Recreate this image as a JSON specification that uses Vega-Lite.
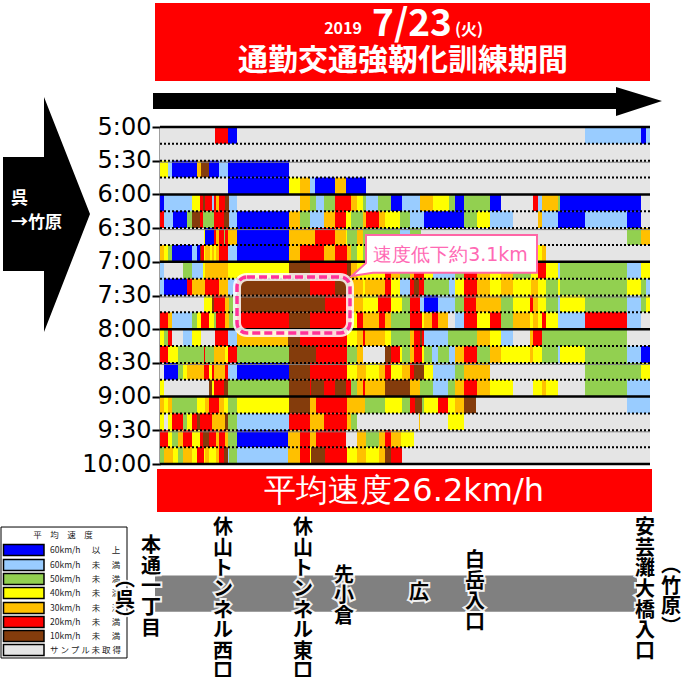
{"$schema":"https://vega.github.io/schema/vega-lite/v6.json","width":490,"height":337,"autosize":{"type":"none"},"padding":{"left":160,"top":127,"right":31,"bottom":213},"background":"white","config":{"view":{"stroke":null},"font":"Noto Sans CJK JP"},
"encoding":{"x":{"field":"a","type":"quantitative","axis":null,"scale":{"domain":[0,490],"nice":false,"zero":false}},"y":{"field":"t","type":"quantitative","scale":{"domain":[300,600],"reverse":true,"nice":false,"zero":false},"axis":{"title":null,"grid":false,"values":[300,330,360,390,420,450,480,510,540,570,600],"labelExpr":"floor(datum.value/60)+':'+(datum.value%60==0?'00':'30')","labelFont":"DejaVu Sans","labelFontSize":24,"labelColor":"black","labelPadding":1,"tickSize":8,"tickWidth":2,"tickColor":"black","domainColor":"#404040","domainWidth":2}}},
"layer":[
{"data":{"values":[{"a":-5,"b":490,"t":189.6,"u":259},{"a":-3,"b":492,"t":604.5,"u":642.7}]},"mark":{"type":"rect","color":"#FF0000"},"encoding":{"x2":{"field":"b"},"y2":{"field":"u"}}},
{"data":{"values":[{"a":-5,"b":477,"t":699.3,"u":731.5}]},"mark":{"type":"rect","color":"#808080"},"encoding":{"x2":{"field":"b"},"y2":{"field":"u"}}},
{"data":{"values":[{"a":-159,"b":-33,"t":656.1,"u":772.7}]},"mark":{"type":"rect","fill":"white","stroke":"black","strokeWidth":1},"encoding":{"x2":{"field":"b"},"y2":{"field":"u"}}},
{"data":{"values":[{"a":-156.5,"b":-116,"t":671.7,"u":681.5,"s":"60+"},{"a":-156.5,"b":-116,"t":685,"u":694.8,"s":"60"},{"a":-156.5,"b":-116,"t":697.5,"u":707.3,"s":"50"},{"a":-156.5,"b":-116,"t":709.9,"u":719.7,"s":"40"},{"a":-156.5,"b":-116,"t":723.3,"u":733.1,"s":"30"},{"a":-156.5,"b":-116,"t":735.8,"u":745.6,"s":"20"},{"a":-156.5,"b":-116,"t":748.2,"u":758,"s":"10"},{"a":-156.5,"b":-116,"t":760.7,"u":770.5,"s":"NA"}]},"mark":{"type":"rect","stroke":"black","strokeWidth":1.5},"encoding":{"x2":{"field":"b"},"y2":{"field":"u"},"color":{"field":"s","type":"nominal","legend":null,"scale":{"domain":["60+","60","50","40","30","20","10","NA"],"range":["#0000FF","#99CCFF","#92D050","#FFFF00","#FFC000","#FF0000","#843C0C","#E5E5E5"]}}}},
{"data":{"values":[{"a":-110,"t":676.6,"label":"60km/h"},{"a":-110,"t":689.9,"label":"60km/h"},{"a":-110,"t":702.4,"label":"50km/h"},{"a":-110,"t":714.8,"label":"40km/h"},{"a":-110,"t":728.2,"label":"30km/h"},{"a":-110,"t":740.7,"label":"20km/h"},{"a":-110,"t":753.1,"label":"10km/h"},{"a":-110,"t":765.6,"label":"サ ン プ ル 未 取 得"}]},"mark":{"type":"text","font":"Noto Sans CJK JP","fontSize":8.5,"color":"#222222","align":"left","baseline":"middle"},"encoding":{"text":{"field":"label"}}},
{"data":{"values":[{"a":-97,"t":663.2,"label":"平　均　速　度"},{"a":-64,"t":676.6,"label":"以"},{"a":-44,"t":676.6,"label":"上"},{"a":-64,"t":689.9,"label":"未"},{"a":-44,"t":689.9,"label":"満"},{"a":-64,"t":702.4,"label":"未"},{"a":-44,"t":702.4,"label":"満"},{"a":-64,"t":714.8,"label":"未"},{"a":-44,"t":714.8,"label":"満"},{"a":-64,"t":728.2,"label":"未"},{"a":-44,"t":728.2,"label":"満"},{"a":-64,"t":740.7,"label":"未"},{"a":-44,"t":740.7,"label":"満"},{"a":-64,"t":753.1,"label":"未"},{"a":-44,"t":753.1,"label":"満"}]},"mark":{"type":"text","font":"Noto Sans CJK JP","fontSize":8.5,"color":"#222222","align":"center","baseline":"middle"},"encoding":{"text":{"field":"label"}}},
{"data":{"values":[
{"t":300,"u":315,"a":0,"b":55,"s":"NA"},{"t":300,"u":315,"a":55,"b":68,"s":"20"},{"t":300,"u":315,"a":68,"b":77,"s":"60+"},{"t":300,"u":315,"a":77,"b":425,"s":"NA"},{"t":300,"u":315,"a":425,"b":481,"s":"60"},{"t":300,"u":315,"a":481,"b":486,"s":"60+"},{"t":300,"u":315,"a":486,"b":490,"s":"60"},
{"t":315,"u":330,"a":0,"b":490,"s":"NA"},
{"t":330,"u":345,"a":0,"b":8,"s":"40"},{"t":330,"u":345,"a":8,"b":12,"s":"60"},{"t":330,"u":345,"a":12,"b":37,"s":"60+"},{"t":330,"u":345,"a":37,"b":41,"s":"30"},{"t":330,"u":345,"a":41,"b":49,"s":"10"},{"t":330,"u":345,"a":49,"b":59,"s":"60+"},{"t":330,"u":345,"a":59,"b":68,"s":"60"},{"t":330,"u":345,"a":68,"b":129,"s":"60+"},{"t":330,"u":345,"a":129,"b":490,"s":"NA"},
{"t":345,"u":360,"a":0,"b":68,"s":"NA"},{"t":345,"u":360,"a":68,"b":129,"s":"60+"},{"t":345,"u":360,"a":129,"b":140,"s":"40"},{"t":345,"u":360,"a":140,"b":150,"s":"30"},{"t":345,"u":360,"a":150,"b":155,"s":"60"},{"t":345,"u":360,"a":155,"b":175,"s":"60+"},{"t":345,"u":360,"a":175,"b":186,"s":"30"},{"t":345,"u":360,"a":186,"b":206,"s":"60+"},{"t":345,"u":360,"a":206,"b":490,"s":"NA"},
{"t":360,"u":375,"a":0,"b":4,"s":"60+"},{"t":360,"u":375,"a":4,"b":32,"s":"60"},{"t":360,"u":375,"a":32,"b":40,"s":"40"},{"t":360,"u":375,"a":40,"b":43,"s":"20"},{"t":360,"u":375,"a":43,"b":45,"s":"10"},{"t":360,"u":375,"a":45,"b":52,"s":"20"},{"t":360,"u":375,"a":52,"b":54,"s":"60"},{"t":360,"u":375,"a":54,"b":56,"s":"20"},{"t":360,"u":375,"a":56,"b":59,"s":"30"},{"t":360,"u":375,"a":59,"b":65,"s":"20"},{"t":360,"u":375,"a":65,"b":69,"s":"10"},{"t":360,"u":375,"a":69,"b":77,"s":"60"},{"t":360,"u":375,"a":77,"b":140,"s":"NA"},{"t":360,"u":375,"a":140,"b":150,"s":"30"},{"t":360,"u":375,"a":150,"b":156,"s":"50"},{"t":360,"u":375,"a":156,"b":164,"s":"60"},{"t":360,"u":375,"a":164,"b":175,"s":"50"},{"t":360,"u":375,"a":175,"b":191,"s":"20"},{"t":360,"u":375,"a":191,"b":197,"s":"30"},{"t":360,"u":375,"a":197,"b":203,"s":"40"},{"t":360,"u":375,"a":203,"b":206,"s":"50"},{"t":360,"u":375,"a":206,"b":218,"s":"60"},{"t":360,"u":375,"a":218,"b":231,"s":"50"},{"t":360,"u":375,"a":231,"b":242,"s":"60+"},{"t":360,"u":375,"a":242,"b":260,"s":"60"},{"t":360,"u":375,"a":260,"b":273,"s":"30"},{"t":360,"u":375,"a":273,"b":289,"s":"40"},{"t":360,"u":375,"a":289,"b":295,"s":"50"},{"t":360,"u":375,"a":295,"b":304,"s":"60+"},{"t":360,"u":375,"a":304,"b":330,"s":"50"},{"t":360,"u":375,"a":330,"b":341,"s":"60+"},{"t":360,"u":375,"a":341,"b":373,"s":"NA"},{"t":360,"u":375,"a":373,"b":378,"s":"20"},{"t":360,"u":375,"a":378,"b":382,"s":"60"},{"t":360,"u":375,"a":382,"b":398,"s":"30"},{"t":360,"u":375,"a":398,"b":400,"s":"50"},{"t":360,"u":375,"a":400,"b":481,"s":"60+"},{"t":360,"u":375,"a":481,"b":490,"s":"NA"},
{"t":375,"u":390,"a":0,"b":4,"s":"20"},{"t":375,"u":390,"a":4,"b":13,"s":"60"},{"t":375,"u":390,"a":13,"b":27,"s":"60+"},{"t":375,"u":390,"a":27,"b":32,"s":"50"},{"t":375,"u":390,"a":32,"b":40,"s":"10"},{"t":375,"u":390,"a":40,"b":43,"s":"20"},{"t":375,"u":390,"a":43,"b":54,"s":"50"},{"t":375,"u":390,"a":54,"b":64,"s":"20"},{"t":375,"u":390,"a":64,"b":69,"s":"10"},{"t":375,"u":390,"a":69,"b":77,"s":"60"},{"t":375,"u":390,"a":77,"b":129,"s":"60+"},{"t":375,"u":390,"a":129,"b":140,"s":"30"},{"t":375,"u":390,"a":140,"b":150,"s":"50"},{"t":375,"u":390,"a":150,"b":164,"s":"60"},{"t":375,"u":390,"a":164,"b":175,"s":"30"},{"t":375,"u":390,"a":175,"b":186,"s":"20"},{"t":375,"u":390,"a":186,"b":191,"s":"40"},{"t":375,"u":390,"a":191,"b":203,"s":"50"},{"t":375,"u":390,"a":203,"b":206,"s":"30"},{"t":375,"u":390,"a":206,"b":219,"s":"20"},{"t":375,"u":390,"a":219,"b":225,"s":"30"},{"t":375,"u":390,"a":225,"b":240,"s":"40"},{"t":375,"u":390,"a":240,"b":250,"s":"50"},{"t":375,"u":390,"a":250,"b":264,"s":"60"},{"t":375,"u":390,"a":264,"b":304,"s":"60+"},{"t":375,"u":390,"a":304,"b":317,"s":"50"},{"t":375,"u":390,"a":317,"b":330,"s":"40"},{"t":375,"u":390,"a":330,"b":353,"s":"60"},{"t":375,"u":390,"a":353,"b":378,"s":"NA"},{"t":375,"u":390,"a":378,"b":382,"s":"30"},{"t":375,"u":390,"a":382,"b":398,"s":"60"},{"t":375,"u":390,"a":398,"b":425,"s":"60+"},{"t":375,"u":390,"a":425,"b":467,"s":"60"},{"t":375,"u":390,"a":467,"b":481,"s":"60+"},{"t":375,"u":390,"a":481,"b":490,"s":"NA"},
{"t":390,"u":405,"a":0,"b":44,"s":"NA"},{"t":390,"u":405,"a":44,"b":45,"s":"40"},{"t":390,"u":405,"a":45,"b":54,"s":"60+"},{"t":390,"u":405,"a":54,"b":56,"s":"20"},{"t":390,"u":405,"a":56,"b":59,"s":"30"},{"t":390,"u":405,"a":59,"b":64,"s":"20"},{"t":390,"u":405,"a":64,"b":65,"s":"50"},{"t":390,"u":405,"a":65,"b":68,"s":"20"},{"t":390,"u":405,"a":68,"b":77,"s":"30"},{"t":390,"u":405,"a":77,"b":129,"s":"60+"},{"t":390,"u":405,"a":129,"b":155,"s":"30"},{"t":390,"u":405,"a":155,"b":175,"s":"20"},{"t":390,"u":405,"a":175,"b":186,"s":"30"},{"t":390,"u":405,"a":186,"b":187,"s":"40"},{"t":390,"u":405,"a":187,"b":197,"s":"50"},{"t":390,"u":405,"a":197,"b":203,"s":"30"},{"t":390,"u":405,"a":203,"b":240,"s":"50"},{"t":390,"u":405,"a":240,"b":250,"s":"60"},{"t":390,"u":405,"a":250,"b":261,"s":"50"},{"t":390,"u":405,"a":261,"b":467,"s":"NA"},{"t":390,"u":405,"a":467,"b":481,"s":"50"},{"t":390,"u":405,"a":481,"b":490,"s":"30"},
{"t":405,"u":420,"a":0,"b":4,"s":"30"},{"t":405,"u":420,"a":4,"b":8,"s":"40"},{"t":405,"u":420,"a":8,"b":12,"s":"50"},{"t":405,"u":420,"a":12,"b":32,"s":"60+"},{"t":405,"u":420,"a":32,"b":37,"s":"60"},{"t":405,"u":420,"a":37,"b":40,"s":"60+"},{"t":405,"u":420,"a":40,"b":41,"s":"10"},{"t":405,"u":420,"a":41,"b":44,"s":"20"},{"t":405,"u":420,"a":44,"b":45,"s":"40"},{"t":405,"u":420,"a":45,"b":50,"s":"30"},{"t":405,"u":420,"a":50,"b":52,"s":"40"},{"t":405,"u":420,"a":52,"b":54,"s":"30"},{"t":405,"u":420,"a":54,"b":56,"s":"40"},{"t":405,"u":420,"a":56,"b":59,"s":"30"},{"t":405,"u":420,"a":59,"b":68,"s":"20"},{"t":405,"u":420,"a":68,"b":77,"s":"60"},{"t":405,"u":420,"a":77,"b":129,"s":"60+"},{"t":405,"u":420,"a":129,"b":140,"s":"30"},{"t":405,"u":420,"a":140,"b":164,"s":"20"},{"t":405,"u":420,"a":164,"b":175,"s":"30"},{"t":405,"u":420,"a":175,"b":187,"s":"20"},{"t":405,"u":420,"a":187,"b":191,"s":"30"},{"t":405,"u":420,"a":191,"b":197,"s":"50"},{"t":405,"u":420,"a":197,"b":203,"s":"40"},{"t":405,"u":420,"a":203,"b":378,"s":"50"},{"t":405,"u":420,"a":378,"b":382,"s":"40"},{"t":405,"u":420,"a":382,"b":386,"s":"30"},{"t":405,"u":420,"a":386,"b":490,"s":"NA"},
{"t":420,"u":435,"a":0,"b":4,"s":"60"},{"t":420,"u":435,"a":4,"b":23,"s":"NA"},{"t":420,"u":435,"a":23,"b":32,"s":"50"},{"t":420,"u":435,"a":32,"b":43,"s":"60"},{"t":420,"u":435,"a":43,"b":45,"s":"40"},{"t":420,"u":435,"a":45,"b":68,"s":"30"},{"t":420,"u":435,"a":68,"b":129,"s":"40"},{"t":420,"u":435,"a":129,"b":150,"s":"10"},{"t":420,"u":435,"a":150,"b":187,"s":"20"},{"t":420,"u":435,"a":187,"b":191,"s":"10"},{"t":420,"u":435,"a":191,"b":197,"s":"30"},{"t":420,"u":435,"a":197,"b":225,"s":"40"},{"t":420,"u":435,"a":225,"b":231,"s":"20"},{"t":420,"u":435,"a":231,"b":240,"s":"30"},{"t":420,"u":435,"a":240,"b":250,"s":"50"},{"t":420,"u":435,"a":250,"b":254,"s":"30"},{"t":420,"u":435,"a":254,"b":264,"s":"20"},{"t":420,"u":435,"a":264,"b":273,"s":"40"},{"t":420,"u":435,"a":273,"b":295,"s":"60"},{"t":420,"u":435,"a":295,"b":304,"s":"50"},{"t":420,"u":435,"a":304,"b":317,"s":"20"},{"t":420,"u":435,"a":317,"b":330,"s":"30"},{"t":420,"u":435,"a":330,"b":341,"s":"40"},{"t":420,"u":435,"a":341,"b":353,"s":"30"},{"t":420,"u":435,"a":353,"b":371,"s":"50"},{"t":420,"u":435,"a":371,"b":378,"s":"40"},{"t":420,"u":435,"a":378,"b":386,"s":"20"},{"t":420,"u":435,"a":386,"b":398,"s":"40"},{"t":420,"u":435,"a":398,"b":400,"s":"60"},{"t":420,"u":435,"a":400,"b":467,"s":"50"},{"t":420,"u":435,"a":467,"b":481,"s":"60"},{"t":420,"u":435,"a":481,"b":490,"s":"40"},
{"t":435,"u":450,"a":0,"b":4,"s":"60"},{"t":435,"u":450,"a":4,"b":27,"s":"60+"},{"t":435,"u":450,"a":27,"b":32,"s":"20"},{"t":435,"u":450,"a":32,"b":45,"s":"30"},{"t":435,"u":450,"a":45,"b":59,"s":"20"},{"t":435,"u":450,"a":59,"b":68,"s":"30"},{"t":435,"u":450,"a":68,"b":77,"s":"60"},{"t":435,"u":450,"a":77,"b":150,"s":"10"},{"t":435,"u":450,"a":150,"b":175,"s":"20"},{"t":435,"u":450,"a":175,"b":190,"s":"10"},{"t":435,"u":450,"a":190,"b":203,"s":"30"},{"t":435,"u":450,"a":203,"b":205,"s":"40"},{"t":435,"u":450,"a":205,"b":225,"s":"30"},{"t":435,"u":450,"a":225,"b":231,"s":"20"},{"t":435,"u":450,"a":231,"b":240,"s":"40"},{"t":435,"u":450,"a":240,"b":250,"s":"60"},{"t":435,"u":450,"a":250,"b":254,"s":"20"},{"t":435,"u":450,"a":254,"b":259,"s":"10"},{"t":435,"u":450,"a":259,"b":264,"s":"20"},{"t":435,"u":450,"a":264,"b":289,"s":"50"},{"t":435,"u":450,"a":289,"b":295,"s":"60"},{"t":435,"u":450,"a":295,"b":304,"s":"40"},{"t":435,"u":450,"a":304,"b":317,"s":"20"},{"t":435,"u":450,"a":317,"b":330,"s":"30"},{"t":435,"u":450,"a":330,"b":341,"s":"40"},{"t":435,"u":450,"a":341,"b":353,"s":"30"},{"t":435,"u":450,"a":353,"b":371,"s":"40"},{"t":435,"u":450,"a":371,"b":378,"s":"30"},{"t":435,"u":450,"a":378,"b":386,"s":"40"},{"t":435,"u":450,"a":386,"b":398,"s":"50"},{"t":435,"u":450,"a":398,"b":400,"s":"40"},{"t":435,"u":450,"a":400,"b":467,"s":"50"},{"t":435,"u":450,"a":467,"b":481,"s":"40"},{"t":435,"u":450,"a":481,"b":486,"s":"50"},{"t":435,"u":450,"a":486,"b":490,"s":"60"},
{"t":450,"u":465,"a":0,"b":44,"s":"NA"},{"t":450,"u":465,"a":44,"b":52,"s":"40"},{"t":450,"u":465,"a":52,"b":54,"s":"10"},{"t":450,"u":465,"a":54,"b":65,"s":"20"},{"t":450,"u":465,"a":65,"b":69,"s":"30"},{"t":450,"u":465,"a":69,"b":77,"s":"50"},{"t":450,"u":465,"a":77,"b":165,"s":"10"},{"t":450,"u":465,"a":165,"b":191,"s":"20"},{"t":450,"u":465,"a":191,"b":203,"s":"30"},{"t":450,"u":465,"a":203,"b":218,"s":"40"},{"t":450,"u":465,"a":218,"b":231,"s":"20"},{"t":450,"u":465,"a":231,"b":242,"s":"40"},{"t":450,"u":465,"a":242,"b":250,"s":"50"},{"t":450,"u":465,"a":250,"b":260,"s":"20"},{"t":450,"u":465,"a":260,"b":264,"s":"60"},{"t":450,"u":465,"a":264,"b":278,"s":"60+"},{"t":450,"u":465,"a":278,"b":295,"s":"60"},{"t":450,"u":465,"a":295,"b":304,"s":"50"},{"t":450,"u":465,"a":304,"b":316,"s":"20"},{"t":450,"u":465,"a":316,"b":341,"s":"30"},{"t":450,"u":465,"a":341,"b":353,"s":"50"},{"t":450,"u":465,"a":353,"b":370,"s":"40"},{"t":450,"u":465,"a":370,"b":373,"s":"20"},{"t":450,"u":465,"a":373,"b":378,"s":"30"},{"t":450,"u":465,"a":378,"b":386,"s":"40"},{"t":450,"u":465,"a":386,"b":398,"s":"50"},{"t":450,"u":465,"a":398,"b":400,"s":"60"},{"t":450,"u":465,"a":400,"b":425,"s":"40"},{"t":450,"u":465,"a":425,"b":467,"s":"50"},{"t":450,"u":465,"a":467,"b":481,"s":"60"},{"t":450,"u":465,"a":481,"b":486,"s":"50"},{"t":450,"u":465,"a":486,"b":490,"s":"40"},
{"t":465,"u":480,"a":0,"b":8,"s":"20"},{"t":465,"u":480,"a":8,"b":12,"s":"30"},{"t":465,"u":480,"a":12,"b":32,"s":"60"},{"t":465,"u":480,"a":32,"b":37,"s":"50"},{"t":465,"u":480,"a":37,"b":41,"s":"40"},{"t":465,"u":480,"a":41,"b":49,"s":"20"},{"t":465,"u":480,"a":49,"b":54,"s":"40"},{"t":465,"u":480,"a":54,"b":56,"s":"50"},{"t":465,"u":480,"a":56,"b":65,"s":"20"},{"t":465,"u":480,"a":65,"b":69,"s":"30"},{"t":465,"u":480,"a":69,"b":77,"s":"50"},{"t":465,"u":480,"a":77,"b":129,"s":"20"},{"t":465,"u":480,"a":129,"b":150,"s":"10"},{"t":465,"u":480,"a":150,"b":191,"s":"20"},{"t":465,"u":480,"a":191,"b":197,"s":"40"},{"t":465,"u":480,"a":197,"b":203,"s":"20"},{"t":465,"u":480,"a":203,"b":219,"s":"30"},{"t":465,"u":480,"a":219,"b":225,"s":"20"},{"t":465,"u":480,"a":225,"b":231,"s":"30"},{"t":465,"u":480,"a":231,"b":250,"s":"50"},{"t":465,"u":480,"a":250,"b":262,"s":"20"},{"t":465,"u":480,"a":262,"b":264,"s":"40"},{"t":465,"u":480,"a":264,"b":272,"s":"30"},{"t":465,"u":480,"a":272,"b":278,"s":"20"},{"t":465,"u":480,"a":278,"b":288,"s":"30"},{"t":465,"u":480,"a":288,"b":295,"s":"NA"},{"t":465,"u":480,"a":295,"b":304,"s":"60"},{"t":465,"u":480,"a":304,"b":317,"s":"20"},{"t":465,"u":480,"a":317,"b":330,"s":"40"},{"t":465,"u":480,"a":330,"b":341,"s":"20"},{"t":465,"u":480,"a":341,"b":353,"s":"50"},{"t":465,"u":480,"a":353,"b":370,"s":"30"},{"t":465,"u":480,"a":370,"b":373,"s":"40"},{"t":465,"u":480,"a":373,"b":378,"s":"30"},{"t":465,"u":480,"a":378,"b":382,"s":"40"},{"t":465,"u":480,"a":382,"b":386,"s":"20"},{"t":465,"u":480,"a":386,"b":398,"s":"40"},{"t":465,"u":480,"a":398,"b":425,"s":"60"},{"t":465,"u":480,"a":425,"b":467,"s":"20"},{"t":465,"u":480,"a":467,"b":481,"s":"60"},{"t":465,"u":480,"a":481,"b":490,"s":"NA"},
{"t":480,"u":495,"a":0,"b":4,"s":"40"},{"t":480,"u":495,"a":4,"b":8,"s":"50"},{"t":480,"u":495,"a":8,"b":12,"s":"20"},{"t":480,"u":495,"a":12,"b":23,"s":"NA"},{"t":480,"u":495,"a":23,"b":32,"s":"60"},{"t":480,"u":495,"a":32,"b":41,"s":"40"},{"t":480,"u":495,"a":41,"b":55,"s":"NA"},{"t":480,"u":495,"a":55,"b":68,"s":"20"},{"t":480,"u":495,"a":68,"b":77,"s":"60"},{"t":480,"u":495,"a":77,"b":128,"s":"30"},{"t":480,"u":495,"a":128,"b":140,"s":"10"},{"t":480,"u":495,"a":140,"b":187,"s":"20"},{"t":480,"u":495,"a":187,"b":197,"s":"40"},{"t":480,"u":495,"a":197,"b":203,"s":"30"},{"t":480,"u":495,"a":203,"b":205,"s":"20"},{"t":480,"u":495,"a":205,"b":225,"s":"30"},{"t":480,"u":495,"a":225,"b":231,"s":"40"},{"t":480,"u":495,"a":231,"b":250,"s":"50"},{"t":480,"u":495,"a":250,"b":254,"s":"30"},{"t":480,"u":495,"a":254,"b":260,"s":"20"},{"t":480,"u":495,"a":260,"b":262,"s":"10"},{"t":480,"u":495,"a":262,"b":264,"s":"20"},{"t":480,"u":495,"a":264,"b":288,"s":"60"},{"t":480,"u":495,"a":288,"b":317,"s":"50"},{"t":480,"u":495,"a":317,"b":330,"s":"30"},{"t":480,"u":495,"a":330,"b":341,"s":"40"},{"t":480,"u":495,"a":341,"b":353,"s":"60"},{"t":480,"u":495,"a":353,"b":370,"s":"NA"},{"t":480,"u":495,"a":370,"b":373,"s":"30"},{"t":480,"u":495,"a":373,"b":382,"s":"20"},{"t":480,"u":495,"a":382,"b":467,"s":"50"},{"t":480,"u":495,"a":467,"b":490,"s":"NA"},
{"t":495,"u":510,"a":0,"b":8,"s":"20"},{"t":495,"u":510,"a":8,"b":18,"s":"40"},{"t":495,"u":510,"a":18,"b":44,"s":"50"},{"t":495,"u":510,"a":44,"b":45,"s":"20"},{"t":495,"u":510,"a":45,"b":54,"s":"50"},{"t":495,"u":510,"a":54,"b":65,"s":"30"},{"t":495,"u":510,"a":65,"b":68,"s":"40"},{"t":495,"u":510,"a":68,"b":77,"s":"20"},{"t":495,"u":510,"a":77,"b":129,"s":"50"},{"t":495,"u":510,"a":129,"b":156,"s":"10"},{"t":495,"u":510,"a":156,"b":187,"s":"20"},{"t":495,"u":510,"a":187,"b":197,"s":"50"},{"t":495,"u":510,"a":197,"b":203,"s":"30"},{"t":495,"u":510,"a":203,"b":225,"s":"NA"},{"t":495,"u":510,"a":225,"b":231,"s":"10"},{"t":495,"u":510,"a":231,"b":240,"s":"20"},{"t":495,"u":510,"a":240,"b":242,"s":"40"},{"t":495,"u":510,"a":242,"b":250,"s":"50"},{"t":495,"u":510,"a":250,"b":254,"s":"30"},{"t":495,"u":510,"a":254,"b":262,"s":"20"},{"t":495,"u":510,"a":262,"b":264,"s":"40"},{"t":495,"u":510,"a":264,"b":272,"s":"50"},{"t":495,"u":510,"a":272,"b":278,"s":"60"},{"t":495,"u":510,"a":278,"b":289,"s":"50"},{"t":495,"u":510,"a":289,"b":295,"s":"60"},{"t":495,"u":510,"a":295,"b":304,"s":"30"},{"t":495,"u":510,"a":304,"b":317,"s":"20"},{"t":495,"u":510,"a":317,"b":330,"s":"50"},{"t":495,"u":510,"a":330,"b":341,"s":"30"},{"t":495,"u":510,"a":341,"b":370,"s":"40"},{"t":495,"u":510,"a":370,"b":373,"s":"30"},{"t":495,"u":510,"a":373,"b":382,"s":"40"},{"t":495,"u":510,"a":382,"b":398,"s":"50"},{"t":495,"u":510,"a":398,"b":400,"s":"60"},{"t":495,"u":510,"a":400,"b":425,"s":"40"},{"t":495,"u":510,"a":425,"b":467,"s":"50"},{"t":495,"u":510,"a":467,"b":481,"s":"60"},{"t":495,"u":510,"a":481,"b":490,"s":"60+"},
{"t":510,"u":525,"a":0,"b":4,"s":"NA"},{"t":510,"u":525,"a":4,"b":18,"s":"60+"},{"t":510,"u":525,"a":18,"b":23,"s":"50"},{"t":510,"u":525,"a":23,"b":27,"s":"40"},{"t":510,"u":525,"a":27,"b":44,"s":"30"},{"t":510,"u":525,"a":44,"b":49,"s":"20"},{"t":510,"u":525,"a":49,"b":52,"s":"40"},{"t":510,"u":525,"a":52,"b":54,"s":"20"},{"t":510,"u":525,"a":54,"b":65,"s":"30"},{"t":510,"u":525,"a":65,"b":68,"s":"20"},{"t":510,"u":525,"a":68,"b":77,"s":"60"},{"t":510,"u":525,"a":77,"b":129,"s":"60+"},{"t":510,"u":525,"a":129,"b":150,"s":"10"},{"t":510,"u":525,"a":150,"b":187,"s":"20"},{"t":510,"u":525,"a":187,"b":197,"s":"40"},{"t":510,"u":525,"a":197,"b":206,"s":"30"},{"t":510,"u":525,"a":206,"b":219,"s":"40"},{"t":510,"u":525,"a":219,"b":225,"s":"30"},{"t":510,"u":525,"a":225,"b":231,"s":"20"},{"t":510,"u":525,"a":231,"b":242,"s":"40"},{"t":510,"u":525,"a":242,"b":250,"s":"30"},{"t":510,"u":525,"a":250,"b":254,"s":"20"},{"t":510,"u":525,"a":254,"b":264,"s":"10"},{"t":510,"u":525,"a":264,"b":273,"s":"40"},{"t":510,"u":525,"a":273,"b":295,"s":"60"},{"t":510,"u":525,"a":295,"b":304,"s":"50"},{"t":510,"u":525,"a":304,"b":330,"s":"30"},{"t":510,"u":525,"a":330,"b":425,"s":"NA"},{"t":510,"u":525,"a":425,"b":481,"s":"50"},{"t":510,"u":525,"a":481,"b":490,"s":"40"},
{"t":525,"u":540,"a":0,"b":4,"s":"40"},{"t":525,"u":540,"a":4,"b":49,"s":"NA"},{"t":525,"u":540,"a":49,"b":52,"s":"10"},{"t":525,"u":540,"a":52,"b":54,"s":"40"},{"t":525,"u":540,"a":54,"b":64,"s":"20"},{"t":525,"u":540,"a":64,"b":68,"s":"10"},{"t":525,"u":540,"a":68,"b":129,"s":"50"},{"t":525,"u":540,"a":129,"b":150,"s":"10"},{"t":525,"u":540,"a":150,"b":151,"s":"20"},{"t":525,"u":540,"a":151,"b":164,"s":"10"},{"t":525,"u":540,"a":164,"b":175,"s":"20"},{"t":525,"u":540,"a":175,"b":186,"s":"10"},{"t":525,"u":540,"a":186,"b":191,"s":"20"},{"t":525,"u":540,"a":191,"b":197,"s":"50"},{"t":525,"u":540,"a":197,"b":203,"s":"30"},{"t":525,"u":540,"a":203,"b":205,"s":"20"},{"t":525,"u":540,"a":205,"b":225,"s":"30"},{"t":525,"u":540,"a":225,"b":250,"s":"10"},{"t":525,"u":540,"a":250,"b":260,"s":"30"},{"t":525,"u":540,"a":260,"b":273,"s":"50"},{"t":525,"u":540,"a":273,"b":288,"s":"60"},{"t":525,"u":540,"a":288,"b":295,"s":"50"},{"t":525,"u":540,"a":295,"b":304,"s":"30"},{"t":525,"u":540,"a":304,"b":317,"s":"20"},{"t":525,"u":540,"a":317,"b":330,"s":"30"},{"t":525,"u":540,"a":330,"b":353,"s":"40"},{"t":525,"u":540,"a":353,"b":373,"s":"NA"},{"t":525,"u":540,"a":373,"b":382,"s":"40"},{"t":525,"u":540,"a":382,"b":386,"s":"30"},{"t":525,"u":540,"a":386,"b":398,"s":"40"},{"t":525,"u":540,"a":398,"b":425,"s":"NA"},{"t":525,"u":540,"a":425,"b":467,"s":"50"},{"t":525,"u":540,"a":467,"b":490,"s":"60"},
{"t":540,"u":555,"a":0,"b":4,"s":"30"},{"t":540,"u":555,"a":4,"b":8,"s":"40"},{"t":540,"u":555,"a":8,"b":12,"s":"30"},{"t":540,"u":555,"a":12,"b":37,"s":"50"},{"t":540,"u":555,"a":37,"b":45,"s":"40"},{"t":540,"u":555,"a":45,"b":49,"s":"30"},{"t":540,"u":555,"a":49,"b":59,"s":"20"},{"t":540,"u":555,"a":59,"b":64,"s":"30"},{"t":540,"u":555,"a":64,"b":68,"s":"40"},{"t":540,"u":555,"a":68,"b":77,"s":"50"},{"t":540,"u":555,"a":77,"b":129,"s":"40"},{"t":540,"u":555,"a":129,"b":150,"s":"10"},{"t":540,"u":555,"a":150,"b":156,"s":"30"},{"t":540,"u":555,"a":156,"b":187,"s":"20"},{"t":540,"u":555,"a":187,"b":205,"s":"30"},{"t":540,"u":555,"a":205,"b":225,"s":"50"},{"t":540,"u":555,"a":225,"b":242,"s":"40"},{"t":540,"u":555,"a":242,"b":250,"s":"50"},{"t":540,"u":555,"a":250,"b":255,"s":"20"},{"t":540,"u":555,"a":255,"b":262,"s":"10"},{"t":540,"u":555,"a":262,"b":264,"s":"50"},{"t":540,"u":555,"a":264,"b":278,"s":"40"},{"t":540,"u":555,"a":278,"b":288,"s":"20"},{"t":540,"u":555,"a":288,"b":295,"s":"40"},{"t":540,"u":555,"a":295,"b":304,"s":"30"},{"t":540,"u":555,"a":304,"b":316,"s":"10"},{"t":540,"u":555,"a":316,"b":467,"s":"NA"},{"t":540,"u":555,"a":467,"b":490,"s":"60"},
{"t":555,"u":570,"a":0,"b":4,"s":"40"},{"t":555,"u":570,"a":4,"b":8,"s":"NA"},{"t":555,"u":570,"a":8,"b":12,"s":"40"},{"t":555,"u":570,"a":12,"b":23,"s":"20"},{"t":555,"u":570,"a":23,"b":27,"s":"50"},{"t":555,"u":570,"a":27,"b":32,"s":"40"},{"t":555,"u":570,"a":32,"b":37,"s":"20"},{"t":555,"u":570,"a":37,"b":40,"s":"10"},{"t":555,"u":570,"a":40,"b":52,"s":"20"},{"t":555,"u":570,"a":52,"b":65,"s":"30"},{"t":555,"u":570,"a":65,"b":68,"s":"10"},{"t":555,"u":570,"a":68,"b":77,"s":"50"},{"t":555,"u":570,"a":77,"b":129,"s":"60"},{"t":555,"u":570,"a":129,"b":150,"s":"20"},{"t":555,"u":570,"a":150,"b":164,"s":"30"},{"t":555,"u":570,"a":164,"b":187,"s":"20"},{"t":555,"u":570,"a":187,"b":191,"s":"30"},{"t":555,"u":570,"a":191,"b":197,"s":"50"},{"t":555,"u":570,"a":197,"b":259,"s":"NA"},{"t":555,"u":570,"a":259,"b":260,"s":"30"},{"t":555,"u":570,"a":260,"b":288,"s":"NA"},{"t":555,"u":570,"a":288,"b":304,"s":"40"},{"t":555,"u":570,"a":304,"b":490,"s":"NA"},
{"t":570,"u":585,"a":0,"b":8,"s":"20"},{"t":570,"u":585,"a":8,"b":12,"s":"40"},{"t":570,"u":585,"a":12,"b":18,"s":"50"},{"t":570,"u":585,"a":18,"b":23,"s":"30"},{"t":570,"u":585,"a":23,"b":32,"s":"20"},{"t":570,"u":585,"a":32,"b":40,"s":"40"},{"t":570,"u":585,"a":40,"b":43,"s":"20"},{"t":570,"u":585,"a":43,"b":49,"s":"10"},{"t":570,"u":585,"a":49,"b":56,"s":"20"},{"t":570,"u":585,"a":56,"b":59,"s":"30"},{"t":570,"u":585,"a":59,"b":65,"s":"20"},{"t":570,"u":585,"a":65,"b":68,"s":"30"},{"t":570,"u":585,"a":68,"b":77,"s":"50"},{"t":570,"u":585,"a":77,"b":128,"s":"60+"},{"t":570,"u":585,"a":128,"b":140,"s":"30"},{"t":570,"u":585,"a":140,"b":150,"s":"20"},{"t":570,"u":585,"a":150,"b":156,"s":"30"},{"t":570,"u":585,"a":156,"b":186,"s":"20"},{"t":570,"u":585,"a":186,"b":197,"s":"NA"},{"t":570,"u":585,"a":197,"b":206,"s":"30"},{"t":570,"u":585,"a":206,"b":219,"s":"50"},{"t":570,"u":585,"a":219,"b":225,"s":"30"},{"t":570,"u":585,"a":225,"b":231,"s":"20"},{"t":570,"u":585,"a":231,"b":241,"s":"30"},{"t":570,"u":585,"a":241,"b":254,"s":"40"},{"t":570,"u":585,"a":254,"b":490,"s":"NA"},
{"t":585,"u":600,"a":0,"b":4,"s":"50"},{"t":585,"u":600,"a":4,"b":13,"s":"30"},{"t":585,"u":600,"a":13,"b":18,"s":"40"},{"t":585,"u":600,"a":18,"b":23,"s":"50"},{"t":585,"u":600,"a":23,"b":32,"s":"30"},{"t":585,"u":600,"a":32,"b":37,"s":"40"},{"t":585,"u":600,"a":37,"b":44,"s":"20"},{"t":585,"u":600,"a":44,"b":45,"s":"40"},{"t":585,"u":600,"a":45,"b":49,"s":"30"},{"t":585,"u":600,"a":49,"b":56,"s":"40"},{"t":585,"u":600,"a":56,"b":59,"s":"30"},{"t":585,"u":600,"a":59,"b":64,"s":"20"},{"t":585,"u":600,"a":64,"b":68,"s":"10"},{"t":585,"u":600,"a":68,"b":69,"s":"60"},{"t":585,"u":600,"a":69,"b":77,"s":"50"},{"t":585,"u":600,"a":77,"b":128,"s":"60"},{"t":585,"u":600,"a":128,"b":140,"s":"30"},{"t":585,"u":600,"a":140,"b":150,"s":"20"},{"t":585,"u":600,"a":150,"b":151,"s":"40"},{"t":585,"u":600,"a":151,"b":165,"s":"10"},{"t":585,"u":600,"a":165,"b":187,"s":"20"},{"t":585,"u":600,"a":187,"b":197,"s":"40"},{"t":585,"u":600,"a":197,"b":206,"s":"30"},{"t":585,"u":600,"a":206,"b":219,"s":"40"},{"t":585,"u":600,"a":219,"b":225,"s":"30"},{"t":585,"u":600,"a":225,"b":231,"s":"10"},{"t":585,"u":600,"a":231,"b":242,"s":"20"},{"t":585,"u":600,"a":242,"b":490,"s":"NA"}
]},"mark":{"type":"rect"},"encoding":{"x2":{"field":"b"},"y2":{"field":"u"},"color":{"field":"s","type":"nominal","legend":null,"scale":{"domain":["60+","60","50","40","30","20","10","NA"],"range":["#0000FF","#99CCFF","#92D050","#FFFF00","#FFC000","#FF0000","#843C0C","#E5E5E5"]}}}},
{"data":{"values":[{"t":300,"a":0,"b":490},{"t":360,"a":0,"b":490},{"t":420,"a":0,"b":490},{"t":480,"a":0,"b":490},{"t":540,"a":0,"b":490},{"t":600,"a":0,"b":490}]},"mark":{"type":"rule","color":"black","strokeWidth":2.5},"encoding":{"x2":{"field":"b"}}},
{"data":{"values":[{"t":330,"a":0,"b":490},{"t":390,"a":0,"b":490},{"t":450,"a":0,"b":490},{"t":510,"a":0,"b":490},{"t":570,"a":0,"b":490}]},"mark":{"type":"rule","color":"#808080","strokeWidth":1,"yOffset":1.5},"encoding":{"x2":{"field":"b"}}},
{"data":{"values":[{"t":315,"a":0,"b":490},{"t":330,"a":0,"b":490},{"t":345,"a":0,"b":490},{"t":375,"a":0,"b":490},{"t":390,"a":0,"b":490},{"t":405,"a":0,"b":490},{"t":435,"a":0,"b":490},{"t":450,"a":0,"b":490},{"t":465,"a":0,"b":490},{"t":495,"a":0,"b":490},{"t":510,"a":0,"b":490},{"t":525,"a":0,"b":490},{"t":555,"a":0,"b":490},{"t":570,"a":0,"b":490},{"t":585,"a":0,"b":490}]},"mark":{"type":"rule","color":"black","strokeWidth":2,"strokeDash":[2,2]},"encoding":{"x2":{"field":"b"}}},
{"data":{"values":[{"a":77,"b":190,"t":433.5,"u":483.4}]},"mark":{"type":"rect","fill":"transparent","stroke":"white","strokeWidth":8,"strokeOpacity":0.85,"cornerRadius":10},"encoding":{"x2":{"field":"b"},"y2":{"field":"u"}}},
{"data":{"values":[{"a":77,"b":190,"t":433.5,"u":483.4}]},"mark":{"type":"rect","fill":"transparent","stroke":"#FF3399","strokeWidth":3.5,"strokeDash":[8,4],"cornerRadius":10},"encoding":{"x2":{"field":"b"},"y2":{"field":"u"}}},
{"data":{"values":[{"a":284,"t":413.95}]},"mark":{"type":"point","shape":"M-0.78,-0.2H0.93V0.177H-0.71L-0.923,0.21L-0.78,0.08Z","size":40000,"filled":true,"fill":"white","stroke":"#FF66A6","strokeWidth":2,"opacity":1}},
{"data":{"values":[{"a":290.5,"t":413.95,"label":"速度低下約3.1km"}]},"mark":{"type":"text","font":"DejaVu Sans","fontSize":19,"color":"#FF69B4","align":"center","baseline":"middle"},"encoding":{"text":{"field":"label"}}},
{"data":{"values":[{"a":246,"t":276.85}]},"mark":{"type":"point","shape":"M-2.53,-0.08H2.1V-0.14L2.56,0L2.1,0.15V0.08H-2.53Z","size":40000,"filled":true,"color":"black","opacity":1}},
{"data":{"values":[{"a":-114,"t":377.45}]},"mark":{"type":"point","shape":"M-0.43,-0.57H-0.02V-1.17L0.44,0L-0.02,1.18V0.57H-0.43Z","size":40000,"filled":true,"color":"black","opacity":1}},
{"data":{"values":[{"a":183,"t":212.8,"label":"2019"},{"a":309,"t":213.6,"label":"(火)"}]},"mark":{"type":"text","font":"Noto Sans CJK JP","fontWeight":"bold","fontSize":16,"color":"white","align":"center","baseline":"middle"},"encoding":{"text":{"field":"label"}}},
{"data":{"values":[{"a":252,"t":209.2,"label":"7/23"}]},"mark":{"type":"text","font":"Noto Sans CJK JP","fontWeight":"bold","fontSize":37,"color":"white","align":"center","baseline":"middle"},"encoding":{"text":{"field":"label"}}},
{"data":{"values":[{"a":243,"t":241.3,"label":"通勤交通強靭化訓練期間"}]},"mark":{"type":"text","font":"Noto Sans CJK JP","fontWeight":"bold","fontSize":30,"color":"white","align":"center","baseline":"middle"},"encoding":{"text":{"field":"label"}}},
{"data":{"values":[{"a":-149,"t":364.1,"label":"呉"},{"a":-149,"t":385.5,"label":"→竹原"}]},"mark":{"type":"text","font":"Noto Sans CJK JP","fontWeight":"bold","fontSize":17,"color":"white","align":"left","baseline":"middle"},"encoding":{"text":{"field":"label"}}},
{"data":{"values":[{"a":244,"t":624,"label":"平均速度26.2km/h"}]},"mark":{"type":"text","font":"DejaVu Sans","fontSize":32,"color":"white","align":"center","baseline":"middle"},"encoding":{"text":{"field":"label"}}},
{"data":{"name":"places","values":[{"a":-9,"t":664.2,"label":"本\n通\n一\n丁\n目"},{"a":63,"t":648.2,"label":"休\n山\nト\nン\nネ\nル\n西\n口"},{"a":143,"t":648.2,"label":"休\n山\nト\nン\nネ\nル\n東\n口"},{"a":184,"t":690.7,"label":"先\n小\n倉"},{"a":259,"t":705.9,"label":"広"},{"a":315,"t":677.6,"label":"白\n岳\n入\n口"},{"a":485,"t":648.2,"label":"安\n芸\n灘\n大\n橋\n入\n口"},{"a":511,"t":681.9,"label":"︵\n竹\n原\n︶"},{"a":-35,"t":694.4,"label":"︵\n呉\n︶"}]},"mark":{"type":"text","font":"Noto Sans CJK JP","fontWeight":"bold","fontSize":20,"lineHeight":20.6,"lineBreak":"\n","align":"center","baseline":"top","stroke":"white","strokeWidth":4,"strokeOpacity":0.9,"fill":"white"},"encoding":{"text":{"field":"label"}}},
{"data":{"name":"places"},"mark":{"type":"text","font":"Noto Sans CJK JP","fontWeight":"bold","fontSize":20,"lineHeight":20.6,"lineBreak":"\n","align":"center","baseline":"top","color":"black"},"encoding":{"text":{"field":"label"}}}
]}
